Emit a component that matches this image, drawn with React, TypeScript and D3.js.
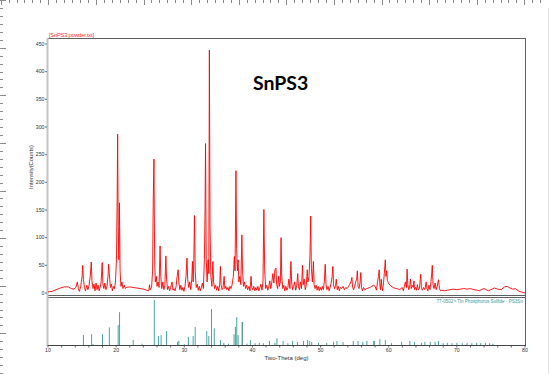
import React from "react";
import * as d3 from "d3";

// measured scan, [two-theta, counts]
const scan: [number, number][] = [
  [10.0, 2], [10.6, 3], [11.2, 6], [11.8, 9], [12.4, 11], [13.0, 11], [13.4, 8], [13.8, 7],
  [14.1, 10], [14.3, 20], [14.45, 8], [14.6, 3], [14.8, 12], [15.0, 30], [15.1, 50], [15.2, 24],
  [15.35, 10], [15.5, 4], [15.7, 14], [15.85, 6], [16.0, 12], [16.2, 30], [16.35, 56], [16.45, 22],
  [16.6, 8], [16.75, 16], [16.9, 4], [17.05, 18], [17.2, 6], [17.35, 14], [17.5, 4], [17.65, 10],
  [17.8, 20], [17.95, 55], [18.05, 18], [18.2, 8], [18.35, 18], [18.5, 6], [18.65, 12], [18.8, 30],
  [18.9, 52], [19.0, 35], [19.15, 10], [19.3, 16], [19.45, 4], [19.6, 12], [19.75, 8], [19.9, 20],
  [20.05, 60], [20.15, 170], [20.22, 287], [20.3, 120], [20.4, 60], [20.48, 163], [20.58, 40],
  [20.7, 12], [20.85, 20], [21.0, 8], [21.2, 14], [21.35, 8], [21.5, 10], [22.0, 11], [22.5, 10],
  [23.0, 9], [23.5, 8], [24.0, 7], [24.5, 5], [24.8, 4], [24.9, 15], [25.0, 6], [25.2, 10],
  [25.35, 40], [25.45, 170], [25.55, 242], [25.65, 60], [25.75, 20], [25.9, 30], [26.0, 12],
  [26.15, 20], [26.3, 10], [26.45, 85], [26.55, 30], [26.7, 8], [26.85, 20], [27.0, 6], [27.15, 14],
  [27.3, 67], [27.4, 25], [27.55, 6], [27.7, 12], [27.85, 4], [28.0, 10], [28.2, 20], [28.35, 5],
  [28.5, 8], [28.65, 4], [28.8, 12], [28.95, 30], [29.1, 42], [29.2, 20], [29.35, 6], [29.5, 14],
  [29.65, 5], [29.8, 10], [29.95, 3], [30.1, 12], [30.25, 30], [30.4, 63], [30.5, 25], [30.65, 10],
  [30.8, 20], [30.95, 6], [31.1, 25], [31.2, 57], [31.3, 20], [31.4, 60], [31.5, 140], [31.6, 40],
  [31.75, 10], [31.9, 16], [32.05, 5], [32.2, 12], [32.35, 4], [32.5, 10], [32.65, 18], [32.8, 8],
  [32.95, 60], [33.05, 150], [33.12, 270], [33.22, 60], [33.35, 20], [33.5, 60], [33.6, 35],
  [33.68, 439], [33.78, 120], [33.9, 30], [34.05, 12], [34.2, 57], [34.3, 20], [34.45, 8], [34.6, 14],
  [34.75, 5], [34.9, 12], [35.05, 4], [35.2, 16], [35.3, 48], [35.4, 15], [35.55, 6], [35.7, 10],
  [35.85, 30], [35.95, 8], [36.1, 12], [36.25, 6], [36.4, 10], [36.55, 4], [36.7, 12], [36.85, 8],
  [37.0, 14], [37.2, 30], [37.35, 66], [37.45, 40], [37.58, 221], [37.68, 80], [37.8, 40], [37.9, 60],
  [38.0, 20], [38.15, 30], [38.3, 15], [38.45, 105], [38.55, 40], [38.7, 12], [38.85, 20], [39.0, 8],
  [39.15, 14], [39.3, 6], [39.5, 12], [39.65, 4], [39.8, 30], [39.9, 10], [40.05, 6], [40.2, 12],
  [40.35, 4], [40.5, 10], [40.65, 5], [40.8, 12], [40.95, 4], [41.1, 10], [41.25, 16], [41.4, 5],
  [41.55, 20], [41.68, 151], [41.8, 40], [41.95, 8], [42.1, 14], [42.25, 5], [42.4, 12], [42.55, 22],
  [42.7, 8], [42.85, 20], [43.0, 35], [43.15, 18], [43.3, 42], [43.45, 45], [43.55, 15], [43.7, 8],
  [43.85, 30], [43.95, 12], [44.1, 20], [44.2, 100], [44.3, 30], [44.45, 8], [44.6, 14], [44.75, 4],
  [44.9, 12], [45.05, 5], [45.2, 10], [45.35, 25], [45.5, 8], [45.65, 57], [45.75, 20], [45.9, 6],
  [46.05, 12], [46.2, 20], [46.35, 5], [46.5, 14], [46.65, 35], [46.75, 12], [46.9, 6], [47.05, 20],
  [47.2, 8], [47.35, 50], [47.45, 15], [47.6, 25], [47.75, 6], [47.9, 14], [48.05, 42], [48.15, 20],
  [48.3, 30], [48.45, 70], [48.55, 139], [48.65, 45], [48.8, 20], [48.95, 57], [49.05, 15], [49.2, 8],
  [49.35, 14], [49.5, 5], [49.65, 12], [49.8, 4], [49.95, 10], [50.1, 5], [50.25, 12], [50.4, 6],
  [50.55, 20], [50.68, 52], [50.8, 15], [50.95, 6], [51.1, 12], [51.25, 4], [51.4, 10], [51.55, 18],
  [51.7, 30], [51.8, 48], [51.9, 15], [52.05, 8], [52.2, 14], [52.3, 25], [52.45, 6], [52.6, 12],
  [52.75, 4], [52.9, 10], [53.1, 8], [53.3, 12], [53.5, 6], [53.7, 10], [53.9, 8], [54.1, 12],
  [54.3, 16], [54.45, 20], [54.6, 28], [54.7, 10], [54.85, 6], [55.0, 12], [55.15, 20], [55.3, 25],
  [55.4, 40], [55.5, 12], [55.65, 8], [55.8, 20], [55.9, 37], [56.0, 10], [56.15, 4], [56.3, 10],
  [56.5, 6], [56.8, 8], [57.2, 10], [57.5, 12], [57.8, 14], [58.0, 12], [58.2, 5], [58.35, 20],
  [58.5, 30], [58.6, 42], [58.7, 15], [58.8, 6], [58.9, 25], [59.0, 10], [59.1, 4], [59.25, 20],
  [59.35, 35], [59.5, 60], [59.6, 30], [59.7, 40], [59.8, 23], [59.95, 18], [60.2, 14], [60.5, 11],
  [60.8, 9], [61.2, 8], [61.6, 6], [62.0, 10], [62.15, 4], [62.3, 12], [62.45, 20], [62.6, 10],
  [62.7, 43], [62.8, 15], [62.95, 6], [63.1, 14], [63.2, 25], [63.3, 8], [63.45, 14], [63.6, 10],
  [63.7, 22], [63.8, 6], [63.95, 10], [64.1, 5], [64.2, 15], [64.35, 6], [64.5, 8], [64.6, 20],
  [64.7, 34], [64.8, 8], [64.95, 5], [65.1, 10], [65.3, 6], [65.5, 20], [65.6, 8], [65.75, 4],
  [65.9, 14], [66.05, 6], [66.2, 20], [66.3, 35], [66.4, 50], [66.5, 15], [66.65, 8], [66.8, 18],
  [66.95, 6], [67.1, 12], [67.3, 24], [67.45, 8], [67.6, 4], [67.8, 5], [68.2, 4], [68.6, 5],
  [69.0, 6], [69.5, 7], [70.0, 6], [70.5, 7], [71.0, 8], [71.5, 7], [72.0, 8], [72.5, 6], [73.0, 5],
  [73.3, 4], [73.6, 6], [74.0, 8], [74.3, 6], [74.6, 4], [75.0, 6], [75.5, 9], [76.0, 7], [76.5, 6],
  [77.0, 11], [77.4, 12], [77.8, 9], [78.2, 7], [78.6, 8], [79.0, 4], [79.4, 2], [79.7, 1], [80.0, 0],
];

// reference card 77-0502 sticks
const refTheta = [
  15.2, 16.4, 16.6, 18.0, 19.0, 20.3, 20.5, 22.5, 23.8, 25.6, 26.2, 26.6, 27.4, 29.0, 29.2, 30.0,
  30.6, 31.3, 31.6, 33.3, 33.6, 34.0, 34.4, 35.3, 35.8, 36.5, 37.3, 37.5, 37.7, 37.9, 38.5, 39.2,
  39.7, 40.4, 41.0, 41.6, 42.5, 43.3, 43.6, 44.5, 45.2, 45.9, 46.6, 47.5, 48.1, 48.4, 48.7, 49.7,
  50.9, 51.9, 52.4, 53.3, 54.8, 55.5, 56.2, 56.8, 57.8, 57.9, 58.7, 59.5, 60.4, 61.9, 63.1, 63.8,
  64.8, 65.3, 66.1, 66.8, 67.3, 68.0, 68.6, 69.3, 70.0, 70.8, 71.5, 72.2, 72.9, 73.5, 74.2, 74.8,
  75.3,
];
const refRel = [
  22, 24, 2, 24, 39, 44, 73, 11, 3, 100, 20, 22, 31, 7, 9, 2,
  18, 20, 40, 31, 20, 80, 37, 11, 5, 3, 24, 40, 62, 22, 51, 3,
  11, 4, 5, 4, 9, 5, 15, 9, 4, 9, 7, 9, 11, 9, 7, 5,
  5, 7, 9, 7, 9, 9, 7, 9, 9, 9, 13, 11, 4, 7, 9, 7,
  5, 7, 7, 7, 9, 4, 5, 4, 5, 4, 5, 4, 5, 4, 5, 4,
  3,
];

const yTicks = [0, 50, 100, 150, 200, 250, 300, 350, 400, 450];
const xTicks = [10, 20, 30, 40, 50, 60, 70, 80];
const xMinor = d3.range(10, 81, 2);

const App = () => {
  const W = 550;
  const H = 374;
  const left = 48;
  const right = 525;
  const top = 38;
  const mainBottom = 296;
  const axisY = 345;

  const x = d3.scaleLinear().domain([10, 80]).range([left, right]);
  const y = d3.scaleLinear().domain([0, 450]).range([293, 44]);
  const yRef = d3.scaleLinear().domain([0, 100]).range([axisY, 300]);

  const line = d3
    .line<[number, number]>()
    .x((d) => x(d[0]))
    .y((d) => y(d[1]));

  const font = "'Liberation Sans', Arial, sans-serif";
  const frame = "#5f5f5f";
  const axisGray = "#c4c4c4";

  // page ruler along the top and left edge
  const step = 47.6 / 6;
  const topRuler = d3.range(0, 70).map((i) => 48.3 - step * 6 + i * step).filter((v) => v >= 0 && v <= 546);
  const leftRuler = d3.range(0, 50).map((i) => 47.7 - step * 6 + i * step).filter((v) => v >= 0 && v <= H);

  return (
    <svg
      width={W}
      height={H}
      style={{ position: "absolute", left: 0, top: 0, background: "#fff" }}
    >
      <defs>
        <clipPath id="mainClip">
          <rect x={left} y={top} width={right - left} height={mainBottom - top - 1} />
        </clipPath>
      </defs>

      {/* rulers */}
      {topRuler.map((v, i) => (
        <line key={"tr" + i} x1={Math.round(v) + 0.5} x2={Math.round(v) + 0.5} y1={0} y2={i % 6 === 0 ? 5 : 3} stroke="#8a8a8a" />
      ))}
      {leftRuler.map((v, i) => (
        <line key={"lr" + i} y1={Math.round(v) + 0.5} y2={Math.round(v) + 0.5} x1={0} x2={i % 6 === 0 ? 6 : 3} stroke="#8a8a8a" />
      ))}
      <line x1={548.5} x2={548.5} y1={8} y2={H} stroke="#e2e2e2" />

      {/* header */}
      <text x={49} y={36.5} fontFamily={font} fontSize={5.8} fill="#ff3030" textLength={45}>
        [SnPS3 powder.txt]
      </text>

      {/* main frame */}
      <line x1={left} x2={right} y1={top + 0.5} y2={top + 0.5} stroke={frame} />
      <line x1={right + 0.5} x2={right + 0.5} y1={top} y2={axisY} stroke={frame} />
      <line x1={left} x2={right} y1={295.5} y2={295.5} stroke={frame} />
      <line x1={left} x2={right} y1={297.5} y2={297.5} stroke={frame} />
      <line x1={47.5} x2={47.5} y1={top} y2={axisY + 1} stroke={axisGray} strokeWidth={2} />

      {/* y axis */}
      {yTicks.map((t) => (
        <g key={"y" + t}>
          <line x1={45} x2={47} y1={y(t)} y2={y(t)} stroke="#555" strokeWidth={0.8} />
          <text x={44.5} y={y(t) + 1.8} textAnchor="end" fontFamily={font} fontSize={5.2} fill="#333">
            {t}
          </text>
        </g>
      ))}
      <text
        transform={`translate(33,${(top + mainBottom) / 2}) rotate(-90)`}
        textAnchor="middle"
        fontFamily={font}
        fontSize={5.8}
        fill="#333"
      >
        Intensity(Counts)
      </text>

      {/* scan */}
      <path d={line(scan) || ""} fill="none" stroke="#ff0000" strokeWidth={0.9} clipPath="url(#mainClip)" />

      <text x={253} y={90} fontFamily="Lato, 'Open Sans', sans-serif" fontWeight={700} fontSize={19.5} fill="#000">
        SnPS3
      </text>

      {/* reference sticks */}
      {refTheta.map((t, i) => (
        <line
          key={"r" + i}
          x1={x(t)}
          x2={x(t)}
          y1={axisY}
          y2={yRef(refRel[i])}
          stroke={t === 38.5 ? "#1d6f6f" : "#4aa3a3"}
          strokeWidth={1}
        />
      ))}
      <text x={523} y={302.5} textAnchor="end" fontFamily={font} fontSize={4.6} fill="#3a9a9a">
        77-0502&gt; Tin Phosphorus Sulfide - PS3Sn
      </text>

      {/* x axis */}
      <line x1={left} x2={right + 1} y1={axisY + 0.5} y2={axisY + 0.5} stroke="#444" />
      {xMinor.map((t) => (
        <line key={"xm" + t} x1={x(t)} x2={x(t)} y1={axisY} y2={axisY + 2.5} stroke="#444" strokeWidth={0.8} />
      ))}
      {xTicks.map((t) => (
        <text key={"x" + t} x={x(t)} y={352} textAnchor="middle" fontFamily={font} fontSize={5.2} fill="#333">
          {t}
        </text>
      ))}
      <text x={286.5} y={359.5} textAnchor="middle" fontFamily={font} fontSize={6} fill="#333">
        Two-Theta (deg)
      </text>
    </svg>
  );
};

export default App;
